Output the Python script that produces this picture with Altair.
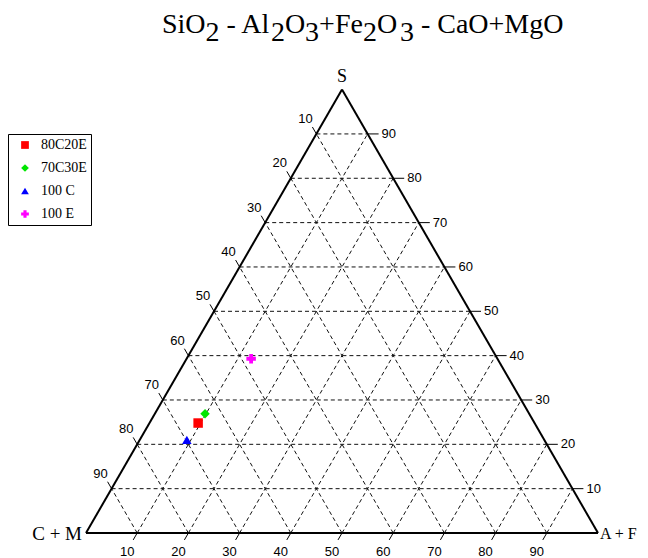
import math
import altair as alt
import pandas as pd

# ---------------- data ----------------
samples = ["80C20E", "70C30E", "100 C", "100 E"]
sio2 = [24.8, 26.9, 21.0, 39.3]        # S   (SiO2)
al_fe = [9.5, 9.8, 9.2, 12.6]          # A+F (Al2O3+Fe2O3)
ca_mg = [65.7, 63.3, 69.8, 48.1]       # C+M (CaO+MgO)
colors = ["#ff0000", "#00e600", "#0000ff", "#ff00ff"]
shapes = ["square", "diamond", "triangle-up", "cross"]
tick_values = [10, 20, 30, 40, 50, 60, 70, 80, 90]
vertex_names = ["S", "C + M", "A + F"]
title_parts = ["SiO", "2", "- Al", "2", "O", "3", "+Fe", "2", "O", "3", "- CaO+MgO"]
title_is_sub = [False, True, False, True, False, True, False, True, False, True, False]
title_space_before = [0, 0, 1, 0, 0, 0, 0, 0, 0, 0.4, 1]

# ---------------- layout ----------------
W, H = 632, 550
PX = 5.12                 # pixels per ternary unit
OX, OY = 78, 525          # plot position of the C+M vertex
XMIN, XMAX = -OX / PX, (W - OX) / PX
YMIN, YMAX = -(H - OY) / PX, OY / PX
R3 = math.sqrt(3) / 2

# Times / Liberation Serif advance widths (per 1000 em) to chain the title pieces
ADV = {"S": 556, "i": 278, "O": 722, "2": 500, "3": 500, " ": 250, "-": 333, "A": 722,
       "l": 278, "+": 564, "F": 556, "e": 444, "C": 667, "a": 444, "M": 889, "g": 500}
TFS = 28
title_x, cur = [], 154.0
for part, sp in zip(title_parts, title_space_before):
    cur += sp * ADV[" "] * TFS / 1000.0
    title_x.append(cur)
    cur += sum(ADV[c] for c in part) * TFS / 1000.0

def cart(s, a):
    return a + s / 2.0, s * R3

xs = alt.Scale(domain=[XMIN, XMAX], nice=False, zero=False)
ys = alt.Scale(domain=[YMIN, YMAX], nice=False, zero=False)

def X(f):
    return alt.X(f, type="quantitative", scale=xs, axis=None)

def Y(f):
    return alt.Y(f, type="quantitative", scale=ys, axis=None)

# grid lines
grid_rows = []
for k in tick_values:
    p1, p2 = cart(k, 0), cart(k, 100 - k)          # constant S
    grid_rows.append(dict(x1=p1[0], y1=p1[1], x2=p2[0], y2=p2[1]))
    p1, p2 = cart(0, k), cart(100 - k, k)          # constant A
    grid_rows.append(dict(x1=p1[0], y1=p1[1], x2=p2[0], y2=p2[1]))
    p1, p2 = cart(0, 100 - k), cart(100 - k, 0)    # constant C
    grid_rows.append(dict(x1=p1[0], y1=p1[1], x2=p2[0], y2=p2[1]))
grid_df = pd.DataFrame(grid_rows)

# edges
vS, vC, vA = cart(100, 0), cart(0, 0), cart(0, 100)
edge_df = pd.DataFrame([
    dict(x1=vC[0], y1=vC[1], x2=vA[0], y2=vA[1]),
    dict(x1=vC[0], y1=vC[1], x2=vS[0], y2=vS[1]),
    dict(x1=vA[0], y1=vA[1], x2=vS[0], y2=vS[1]),
])

# ticks
TL_L, TL_R, TL_B = 8 / PX, 11 / PX, 8 / PX
tick_rows, left_lab, right_lab, bot_lab = [], [], [], []
for k in tick_values:
    e = cart(100 - k, 0)              # left edge: C+M = k
    tick_rows.append(dict(x1=e[0], y1=e[1], x2=e[0] - 0.5 * TL_L, y2=e[1] + R3 * TL_L))
    left_lab.append(dict(x=e[0], y=e[1], t=str(k)))
    e = cart(k, 100 - k)              # right edge: S = k
    tick_rows.append(dict(x1=e[0], y1=e[1], x2=e[0] + TL_R, y2=e[1]))
    right_lab.append(dict(x=e[0], y=e[1], t=str(k)))
    e = cart(0, k)                    # bottom edge: A+F = k
    tick_rows.append(dict(x1=e[0], y1=e[1], x2=e[0] - 0.5 * TL_B, y2=e[1] - R3 * TL_B))
    bot_lab.append(dict(x=e[0], y=e[1], t=str(k)))
tick_df = pd.DataFrame(tick_rows)

SANS = "Liberation Sans"
SERIF = "Liberation Serif"

grid = alt.Chart(grid_df).mark_rule(color="#111", strokeWidth=1, strokeDash=[4, 3]).encode(
    x=X("x1"), y=Y("y1"), x2="x2", y2="y2")
edges = alt.Chart(edge_df).mark_rule(color="black", strokeWidth=2).encode(
    x=X("x1"), y=Y("y1"), x2="x2", y2="y2")
ticks = alt.Chart(tick_df).mark_rule(color="black", strokeWidth=1).encode(
    x=X("x1"), y=Y("y1"), x2="x2", y2="y2")

def labels(rows, **kw):
    return alt.Chart(pd.DataFrame(rows)).mark_text(
        font=SANS, fontSize=13, color="black", baseline="middle", **kw).encode(
        x=X("x"), y=Y("y"), text="t:N")

lab_left = labels(left_lab, align="center", dx=-11, dy=-15)
lab_right = labels(right_lab, align="left", dx=14, dy=0)
lab_bot = labels(bot_lab, align="center", dx=-10, dy=19)

def vlabel(name, pt, size, **kw):
    return alt.Chart(pd.DataFrame([dict(x=pt[0], y=pt[1], t=name)])).mark_text(
        font=SERIF, fontSize=size, color="black", baseline="middle", **kw).encode(
        x=X("x"), y=Y("y"), text="t:N")

v1 = vlabel(vertex_names[0], vS, 18, align="center", dy=-13)
v2 = vlabel(vertex_names[1], vC, 19, align="right", dx=-4, dy=1)
v3 = vlabel(vertex_names[2], vA, 16, align="left", dx=2, dy=1)

pts_df = pd.DataFrame(dict(sample=samples, S=sio2, A=al_fe, C=ca_mg))
points = alt.Chart(pts_df).transform_calculate(
    tot="datum.S + datum.A + datum.C",
    px="100 * (datum.A + datum.S / 2) / datum.tot",
    py="100 * datum.S * sqrt(3) / 2 / datum.tot",
).mark_point(filled=True, size=90, opacity=1).encode(
    x=X("px"), y=Y("py"),
    color=alt.Color("sample:N", sort=samples,
                    scale=alt.Scale(domain=samples, range=colors),
                    legend=alt.Legend(title=None, orient="none", legendX=0, legendY=126,
                                      strokeColor="black", fillColor="white", padding=4,
                                      labelFont=SERIF, labelFontSize=14, labelColor="black",
                                      symbolSize=60, rowPadding=9, labelOffset=9,
                                      symbolOffset=6, symbolStrokeWidth=0, cornerRadius=0)),
    shape=alt.Shape("sample:N", sort=samples,
                    scale=alt.Scale(domain=samples, range=shapes)),
)

title_df = pd.DataFrame(dict(t=title_parts, px=title_x,
                             py=[33 if s else 25 for s in title_is_sub]))
title = alt.Chart(title_df).mark_text(font=SERIF, fontSize=TFS, color="black",
                                      align="left", baseline="alphabetic").encode(
    x=alt.X("px:Q", scale=None, axis=None),
    y=alt.Y("py:Q", scale=None, axis=None),
    text="t:N")

chart = alt.layer(grid, edges, ticks, lab_left, lab_right, lab_bot, v1, v2, v3, points, title).properties(
    width=W, height=H, padding=0, autosize="none", background="white"
).configure_view(stroke=None)

chart.save("out.html", embed_options={"renderer": "svg", "actions": False})
